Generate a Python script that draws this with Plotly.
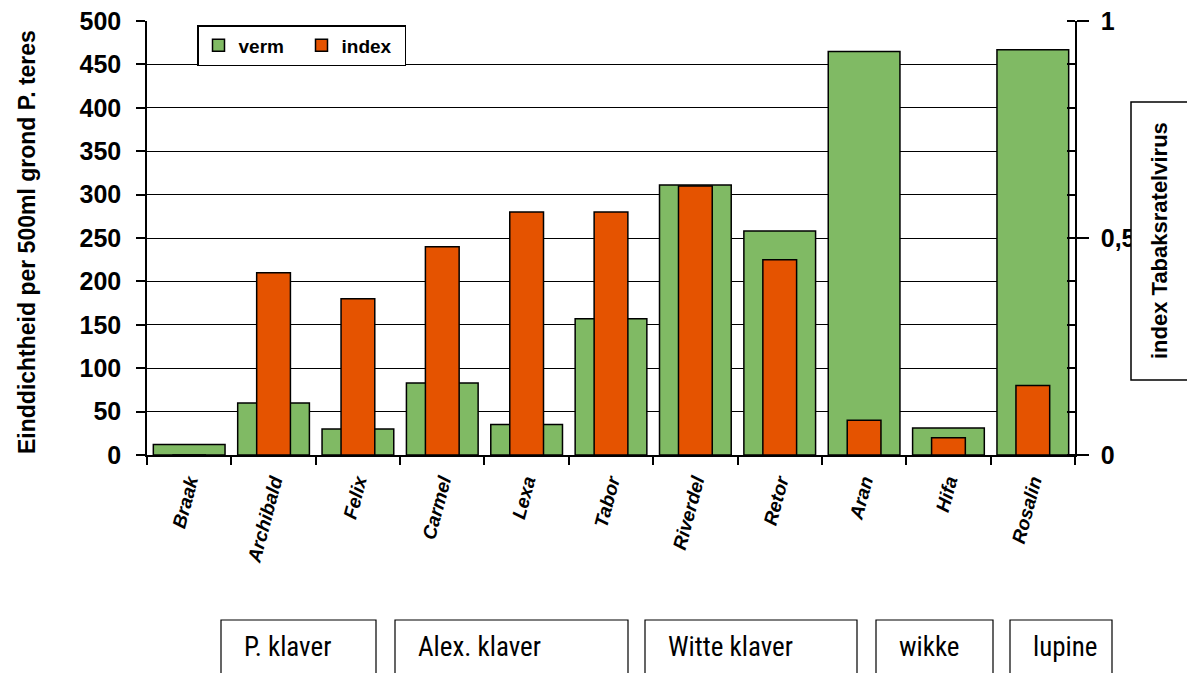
import plotly.graph_objects as go

categories = ["Braak", "Archibald", "Felix", "Carmel", "Lexa", "Tabor",
              "Riverdel", "Retor", "Aran", "Hifa", "Rosalin"]
verm = [12, 60, 30, 83, 35, 157, 311, 258, 465, 31, 467]
index_vals = [0, 0.42, 0.36, 0.48, 0.56, 0.56, 0.62, 0.45, 0.08, 0.04, 0.16]
left_ticks = list(range(0, 501, 50))
right_tickvals = [0, 0.5, 1]
right_ticktext = ["0", "0,5", "1"]
groups = ["P. klaver", "Alex. klaver", "Witte klaver", "wikke", "lupine"]
group_px = [(221, 376), (395, 628), (645, 857), (876, 993), (1010, 1112)]

GREEN = "#80BA64"
RED = "#E55300"

# plot area in pixels
L, R, T, B = 147, 1075, 21, 455
W, H = R - L, B - T


def xp(px):
    return (px - L) / W


def yp(py):
    return (B - py) / H


fig = go.Figure()
fig.add_trace(go.Bar(x=categories, y=verm, name="verm", width=0.85,
                     marker=dict(color=GREEN, line=dict(color="black", width=1.5)),
                     yaxis="y"))
fig.add_trace(go.Bar(x=categories, y=index_vals, name="index", width=0.4,
                     marker=dict(color=RED, line=dict(color="black", width=1.5)),
                     yaxis="y2"))

font_main = "Liberation Sans, Arial, sans-serif"

fig.update_layout(
    width=1187, height=673,
    margin=dict(l=L, r=1187 - R, t=T, b=673 - B, autoexpand=False),
    plot_bgcolor="white", paper_bgcolor="white",
    barmode="overlay",
    font=dict(family=font_main, color="black"),
    showlegend=True,
    legend=dict(orientation="h", x=xp(197), y=yp(25), xanchor="left", yanchor="top",
                bordercolor="black", borderwidth=1.5, bgcolor="white",
                font=dict(size=19, weight="bold", family=font_main),
                itemwidth=30, tracegroupgap=0, entrywidth=58,
                ),
    xaxis=dict(type="category", tickson="boundaries", ticks="outside", ticklen=8,
               tickcolor="black", tickwidth=1.5, showline=True, linecolor="black",
               linewidth=1.5, tickangle=-75, ticklabelstandoff=6, automargin=False,
               tickfont=dict(size=19, weight="bold", style="italic", family=font_main)),
    yaxis=dict(range=[0, 500], tickvals=left_ticks, showgrid=True, gridcolor="black",
               gridwidth=1, showline=True, linecolor="black", linewidth=1.5,
               ticks="outside", ticklen=9, tickcolor="black", tickwidth=1.5,
               zeroline=False, ticklabelstandoff=10, automargin=False,
               tickfont=dict(size=25, weight="bold", family=font_main)),
    yaxis2=dict(range=[0, 1], overlaying="y", side="right", tickvals=right_tickvals,
                ticktext=right_ticktext, showgrid=False, showline=True,
                linecolor="black", linewidth=1.5, ticks="outside", ticklen=12,
                tickcolor="black", tickwidth=1.5, zeroline=False,
                ticklabelstandoff=7, automargin=False,
                minor=dict(ticks="inside", dtick=0.1, ticklen=8, tickcolor="black",
                           tickwidth=1.5, showgrid=False),
                tickfont=dict(size=25, weight="bold", family=font_main)),
)

shapes = []
annotations = []

# left axis title
annotations.append(dict(text="Einddichtheid per 500ml grond P. teres", xref="paper",
                        yref="paper", x=xp(27), y=yp(242), textangle=-90,
                        showarrow=False, xanchor="center", yanchor="middle",
                        font=dict(size=23, weight="bold", family=font_main)))

# right axis title in a box
shapes.append(dict(type="rect", xref="paper", yref="paper", x0=xp(1131), x1=xp(1190),
                   y0=yp(380), y1=yp(102), line=dict(color="black", width=1.5),
                   fillcolor="white"))
annotations.append(dict(text="index Tabaksratelvirus", xref="paper", yref="paper",
                        x=xp(1159), y=yp(241), textangle=-90, showarrow=False,
                        xanchor="center", yanchor="middle",
                        font=dict(size=22, weight="bold", family=font_main)))

# group boxes
narrow = "Liberation Sans Narrow, Arial Narrow, Roboto Condensed, sans-serif"
for g, (x0, x1) in zip(groups, group_px):
    shapes.append(dict(type="rect", xref="paper", yref="paper", x0=xp(x0), x1=xp(x1),
                       y0=yp(700), y1=yp(620), line=dict(color="black", width=1.2)))
    annotations.append(dict(text=g, xref="paper", yref="paper",
                            x=xp(x0 + 21), y=yp(647), xanchor="left",
                            yanchor="middle", showarrow=False,
                            font=dict(size=27, family=narrow)))

fig.update_layout(shapes=shapes, annotations=annotations)
fig.write_html("out.html")
